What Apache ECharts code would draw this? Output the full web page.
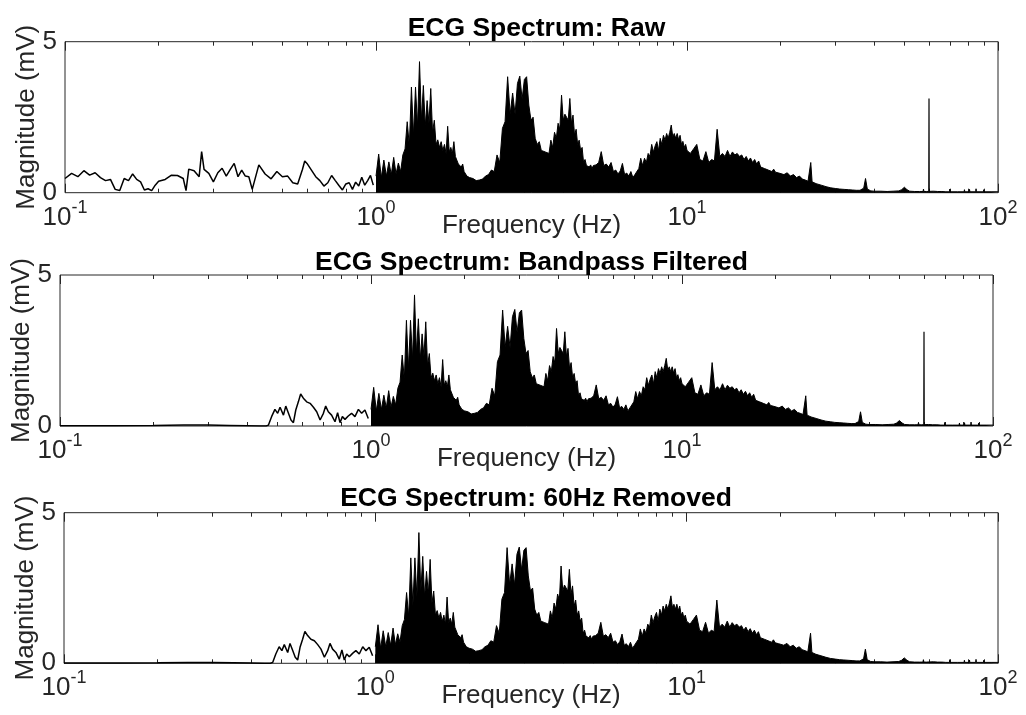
<!DOCTYPE html>
<html>
<head>
<meta charset="utf-8">
<title>ECG Spectrum</title>
<script src="https://cdn.jsdelivr.net/npm/echarts@6/dist/echarts.min.js"></script>
<style>
  html, body { margin: 0; padding: 0; background: #fff; }
  #chart { width: 1026px; height: 715px; }
</style>
</head>
<body>
<div id="chart"></div>
<script>
// Panel titles
const plotTitles = ['ECG Spectrum: Raw', 'ECG Spectrum: Bandpass Filtered', 'ECG Spectrum: 60Hz Removed'];

// Axis ticks
const xMajorTicks = [0.1, 1, 10, 100];
const xMinorTicks = [0.2, 0.3, 0.4, 0.5, 0.6, 0.7, 0.8, 0.9, 2, 3, 4, 5, 6, 7, 8, 9, 20, 30, 40, 50, 60, 70, 80, 90];
const yTicks = [0, 5];

// Raw spectrum below 1 Hz (mV)
const freqLowRaw = [0.100, 0.105, 0.110, 0.115, 0.120, 0.125, 0.130, 0.135, 0.140, 0.145, 0.150, 0.155, 0.160, 0.165, 0.170, 0.175, 0.180, 0.185, 0.190, 0.195, 0.200,
    0.21, 0.22, 0.23, 0.24, 0.245, 0.25, 0.26, 0.27, 0.275, 0.28, 0.29,
    0.30, 0.31, 0.32, 0.33, 0.34, 0.35, 0.36, 0.37, 0.38, 0.39, 0.40,
    0.42, 0.44, 0.46, 0.48, 0.50, 0.52, 0.54, 0.56, 0.58, 0.59, 0.60,
    0.62, 0.64, 0.66, 0.68, 0.70, 0.72, 0.74, 0.76, 0.78, 0.80, 0.82, 0.84, 0.86, 0.88, 0.90, 0.92, 0.94, 0.96, 0.98];
const magLowRaw = [0.47, 0.64, 0.53, 0.73, 0.58, 0.66, 0.50, 0.40, 0.44, 0.11, 0.07, 0.47, 0.40, 0.62, 0.44, 0.36, 0.09, 0.13, 0.07, 0.25, 0.38,
    0.44, 0.58, 0.57, 0.47, 0.07, 0.78, 0.73, 0.53, 1.36, 0.77, 0.64,
    0.36, 0.66, 0.81, 0.55, 0.77, 0.97, 0.53, 0.75, 0.55, 0.53, 0.11,
    0.92, 0.62, 0.46, 0.70, 0.53, 0.55, 0.33, 0.29, 0.77, 1.05, 0.97,
    0.75, 0.53, 0.40, 0.22, 0.33, 0.57, 0.40, 0.24, 0.09, 0.29, 0.33, 0.11, 0.35, 0.22, 0.51, 0.25, 0.40, 0.57, 0.25];

// Filtered spectrum below 1 Hz (mV)
const freqLowFilt = [0.10, 0.15, 0.20, 0.25, 0.30, 0.35, 0.40, 0.44, 0.46, 0.468, 0.479, 0.491, 0.501, 0.510, 0.523, 0.532, 0.542, 0.553, 0.563, 0.573,
    0.584, 0.594, 0.606, 0.621, 0.637, 0.653, 0.669, 0.686, 0.703, 0.715, 0.729, 0.747, 0.766, 0.781, 0.795, 0.809, 0.825, 0.845, 0.866, 0.888,
    0.911, 0.933, 0.956, 0.980];
const magLowFilt = [0.01, 0.01, 0.02, 0.03, 0.03, 0.02, 0.01, 0.00, 0.00, 0.03, 0.31, 0.55, 0.42, 0.62, 0.36, 0.66, 0.44, 0.20, 0.11, 0.53,
    0.80, 1.06, 0.92, 0.80, 0.75, 0.62, 0.47, 0.20, 0.42, 0.66, 0.47, 0.36, 0.14, 0.44, 0.11, 0.31, 0.22, 0.33, 0.42, 0.31,
    0.55, 0.42, 0.53, 0.25];

// Spectrum from 1 Hz upward, upper envelope (mV)
const freqHigh = [1.00, 1.02, 1.04, 1.06, 1.08, 1.10, 1.12, 1.14, 1.16, 1.18, 1.20, 1.22, 1.24, 1.26, 1.28, 1.30, 1.32, 1.34, 1.36, 1.38,
    1.40, 1.42, 1.44, 1.46, 1.48, 1.50, 1.52, 1.54, 1.56, 1.58, 1.60, 1.62, 1.64, 1.66, 1.68, 1.70, 1.72, 1.74, 1.76, 1.78,
    1.80, 1.82, 1.84, 1.86, 1.88, 1.90, 1.92, 1.94, 1.96, 1.98, 2.00,
    2.05, 2.10, 2.15, 2.20, 2.25, 2.30, 2.35, 2.40, 2.45, 2.50, 2.55, 2.60, 2.65, 2.70, 2.75, 2.80, 2.85, 2.90, 2.95, 3.00,
    3.05, 3.10, 3.15, 3.20, 3.25, 3.30, 3.35, 3.40, 3.45, 3.50, 3.55, 3.60, 3.65, 3.70, 3.75, 3.80, 3.85, 3.90, 3.95, 4.00,
    4.05, 4.10, 4.15, 4.20, 4.25, 4.30, 4.35, 4.40, 4.45, 4.50, 4.55, 4.60, 4.65, 4.70, 4.75, 4.80, 4.85, 4.90, 4.95, 5.00,
    5.1, 5.2, 5.3, 5.4, 5.5, 5.6, 5.7, 5.8, 5.9, 6.0, 6.1, 6.2, 6.3, 6.4, 6.5, 6.6, 6.7, 6.8, 6.9, 7.0,
    7.1, 7.2, 7.3, 7.4, 7.5, 7.6, 7.7, 7.8, 7.9, 8.0, 8.1, 8.2, 8.3, 8.4, 8.5, 8.6, 8.7, 8.8, 8.9, 9.0,
    9.1, 9.2, 9.3, 9.4, 9.5, 9.6, 9.7, 9.8, 9.9, 10.0,
    10.25, 10.5, 10.75, 11.0, 11.25, 11.5, 11.75, 12.0, 12.25, 12.5, 12.75, 13.0, 13.25, 13.5, 13.75, 14.0, 14.25, 14.5, 14.75, 15.0,
    15.25, 15.5, 15.75, 16.0, 16.25, 16.5, 16.75, 17.0, 17.25, 17.5, 17.75, 18.0, 18.25, 18.5, 18.75, 19.0, 19.25, 19.5, 19.75, 20.0,
    20.5, 21.0, 21.5, 22.0, 22.5, 23.0, 23.5, 24.0, 24.5, 24.75, 25.0, 25.25, 25.5, 26, 27, 28, 29, 30,
    31, 32, 33, 34, 35, 36, 37, 37.5, 38, 39, 40, 42, 44, 46, 48, 49, 50, 51, 52, 54, 56, 57.4, 57.6, 57.8, 59,
    62, 64, 66, 68, 69.8, 70, 70.2, 74, 77.8, 78, 78.2, 80.8, 81, 81.2, 84.8, 85, 85.2, 89.8, 90, 90.2, 95, 100];
const magHigh = [0.55, 1.28, 0.50, 1.08, 0.55, 1.02, 0.60, 1.17, 0.62, 0.98, 0.70, 1.25, 1.45, 2.35, 1.55, 3.50, 1.90, 3.50, 2.20, 4.34,
    2.40, 3.55, 2.20, 3.05, 2.30, 3.45, 2.00, 2.40, 1.60, 1.75, 1.50, 1.69, 1.40, 1.60, 1.30, 2.20, 1.35, 1.50, 1.30, 1.69,
    1.20, 1.25, 0.95, 1.00, 0.85, 0.95, 0.70, 0.75, 0.55, 0.60, 0.50,
    0.47, 0.40, 0.42, 0.45, 0.55, 0.60, 0.75, 0.70, 1.25, 1.00, 2.13, 2.35, 3.84, 2.60, 3.30, 2.60, 3.62, 3.86, 3.10, 3.75,
    3.84, 2.90, 2.40, 2.50, 1.80, 1.60, 1.69, 1.40, 1.45, 1.35, 1.40, 1.30, 1.74, 1.50, 2.00, 1.80, 2.30, 2.10, 3.23, 2.40,
    2.60, 2.50, 2.40, 3.12, 2.30, 2.57, 1.90, 2.10, 1.60, 1.74, 1.40, 1.50, 1.00, 1.10, 0.90, 0.95, 0.85, 0.92, 0.80, 0.90,
    0.92, 1.00, 1.36, 0.90, 0.95, 0.85, 1.00, 0.70, 0.75, 0.62, 0.72, 0.97, 0.60, 0.65, 0.55, 0.70, 0.50, 0.60, 0.65, 0.80,
    1.14, 0.90, 1.14, 1.00, 1.30, 1.20, 1.60, 1.35, 1.55, 1.69, 1.40, 1.80, 1.60, 1.90, 1.74, 1.96, 1.80, 2.00, 2.24, 1.85,
    1.96, 1.80, 1.96, 1.75, 1.90, 1.60, 1.70, 1.50, 1.60, 1.40,
    1.30, 1.45, 1.60, 1.10, 1.05, 1.36, 1.00, 1.10, 1.05, 2.10, 1.20, 1.30, 1.20, 1.40, 1.20, 1.35, 1.25, 1.30, 1.20, 1.25,
    1.10, 1.20, 1.05, 1.15, 1.00, 1.10, 0.95, 1.05, 0.85, 0.90, 0.80, 0.85, 0.75, 0.80, 0.70, 0.78, 0.68, 0.72, 0.65, 0.68,
    0.60, 0.66, 0.55, 0.60, 0.50, 0.55, 0.45, 0.42, 0.38, 0.40, 1.00, 0.36, 0.33, 0.30, 0.25, 0.20, 0.16, 0.14,
    0.12, 0.11, 0.10, 0.09, 0.08, 0.08, 0.15, 0.47, 0.12, 0.06, 0.05, 0.05, 0.04, 0.05, 0.06, 0.10, 0.18, 0.10, 0.05, 0.04, 0.04, 0.04, 0.12, 0.04, 0.04,
    0.05, 0.04, 0.04, 0.03, 0.03, 0.12, 0.03, 0.03, 0.03, 0.10, 0.03, 0.03, 0.11, 0.03, 0.03, 0.13, 0.03, 0.03, 0.10, 0.03, 0.03, 0.03];

// 60 Hz power-line line (raw and bandpass only)
const freqHum = [59.9, 60.0, 60.1];
const magHum = [0.04, 3.12, 0.04];

const FONT = "'Liberation Sans', Arial, Helvetica, sans-serif";
const INK = '#262626';

const gridBoxes = [
    { left: 65, top: 41.7, width: 933, height: 151 },
    { left: 60, top: 275, width: 933, height: 151 },
    { left: 64, top: 512.7, width: 934, height: 150.6 }
];
const titleTops = [10, 244, 480];

function pairs(xs, ys) {
    return xs.map((x, i) => [x, ys[i]]);
}

function xAxesFor(g) {
    const base = {
        gridIndex: g,
        type: 'log',
        logBase: 10,
        min: 0.1,
        max: 100,
        axisLine: { show: false },
        splitLine: { show: false },
        minorTick: { show: false },
        axisLabel: { show: false }
    };
    const tickStyle = { color: INK, width: 1 };
    return [
        Object.assign({}, base, {
            position: 'bottom',
            name: 'Frequency (Hz)',
            nameLocation: 'middle',
            nameGap: 20,
            nameMoveOverlap: false,
            nameTextStyle: { fontFamily: FONT, fontSize: 26, color: INK },
            axisTick: { show: true, inside: true, length: 9, customValues: xMajorTicks, lineStyle: tickStyle },
            axisLabel: {
                show: true,
                customValues: xMajorTicks,
                margin: 6,
                formatter: v => '{b|10}{s|' + Math.round(Math.log10(v)) + '}',
                rich: {
                    b: { fontFamily: FONT, fontSize: 26, color: INK, lineHeight: 32, verticalAlign: 'bottom' },
                    s: { fontFamily: FONT, fontSize: 18, color: INK, lineHeight: 18, verticalAlign: 'top' }
                }
            }
        }),
        Object.assign({}, base, {
            position: 'top',
            axisTick: { show: true, inside: true, length: 9, customValues: xMajorTicks, lineStyle: tickStyle }
        }),
        Object.assign({}, base, {
            position: 'bottom',
            axisTick: { show: true, inside: true, length: 4, customValues: xMinorTicks, lineStyle: tickStyle }
        }),
        Object.assign({}, base, {
            position: 'top',
            axisTick: { show: true, inside: true, length: 4, customValues: xMinorTicks, lineStyle: tickStyle }
        })
    ];
}

function yAxisFor(g) {
    return {
        gridIndex: g,
        type: 'value',
        min: yTicks[0],
        max: yTicks[1],
        interval: 5,
        name: 'Magnitude (mV)',
        nameLocation: 'middle',
        nameGap: 25,
        nameMoveOverlap: false,
        nameTextStyle: { fontFamily: FONT, fontSize: 26, color: INK },
        axisLine: { show: false },
        axisTick: { show: false },
        splitLine: { show: false },
        axisLabel: { fontFamily: FONT, fontSize: 26, color: INK, margin: 8 }
    };
}

function lineSeries(g, data, width, filled) {
    const s = {
        type: 'line',
        xAxisIndex: g * 4,
        yAxisIndex: g,
        data: data,
        showSymbol: false,
        symbol: 'none',
        silent: true,
        lineStyle: { color: '#000', width: width }
    };
    if (filled) s.areaStyle = { color: '#000', opacity: 1 };
    return s;
}

const chart = echarts.init(document.getElementById('chart'));

const xAxes = [];
const yAxes = [];
const series = [];
for (let g = 0; g < 3; g++) {
    xAxes.push(...xAxesFor(g));
    yAxes.push(yAxisFor(g));
    if (g === 0) {
        series.push(lineSeries(g, pairs(freqLowRaw, magLowRaw), 1.5, false));
    } else {
        series.push(lineSeries(g, pairs(freqLowFilt, magLowFilt), 1.5, false));
    }
    series.push(lineSeries(g, pairs(freqHigh, magHigh), 1, true));
    if (g < 2) {
        series.push(lineSeries(g, pairs(freqHum, magHum), 1.2, false));
    }
}

const option = {
    animation: false,
    backgroundColor: '#fff',
    title: plotTitles.map((t, i) => ({
        text: t,
        left: gridBoxes[i].left + gridBoxes[i].width / 2,
        top: titleTops[i],
        textAlign: 'center',
        textStyle: { fontFamily: FONT, fontSize: 26.5, fontWeight: 'bold', color: '#000' }
    })),
    grid: gridBoxes.map(b => Object.assign({
        show: true,
        borderColor: INK,
        borderWidth: 1,
        backgroundColor: '#fff',
        containLabel: false
    }, b)),
    xAxis: xAxes,
    yAxis: yAxes,
    series: series
};

chart.setOption(option);
</script>
</body>
</html>
